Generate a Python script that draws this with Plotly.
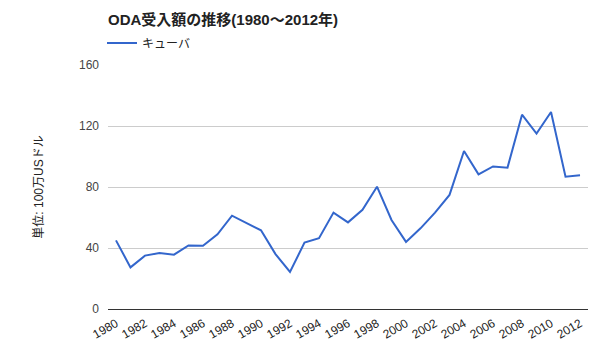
import plotly.graph_objects as go

years = list(range(1980, 2013))
cuba = [45, 27.3, 35, 36.7, 35.6, 41.7, 41.5, 49, 61.2, 56.6, 51.6, 36, 24.3, 43.5, 46.4,
        63.2, 56.8, 65, 80.2, 58.4, 44, 52.9, 63.2, 74.8, 103.6, 88.3, 93.5, 92.7, 127.4,
        115, 129.2, 86.8, 87.7]
yticks = [0, 40, 80, 120, 160]
xticks = list(range(1980, 2013, 2))

FONT = "Liberation Sans, Arial, Noto Sans CJK JP, sans-serif"

fig = go.Figure()
fig.add_trace(go.Scatter(x=years, y=cuba, mode="lines", name="キューバ",
                         line=dict(color="#3366cc", width=2)))

fig.update_layout(
    width=600, height=360,
    margin=dict(l=108, r=12, t=65, b=51),
    paper_bgcolor="white", plot_bgcolor="white",
    font=dict(family=FONT, size=12, color="#444"),
    title=dict(text="<b>ODA受入額の推移(1980～2012年)</b>", xref="container", yref="container",
               x=108/600, xanchor="left", y=1-20/360, yanchor="middle",
               font=dict(size=15, color="#222", family=FONT)),
    showlegend=True,
    legend=dict(orientation="h", x=-6/480, xanchor="left",
                y=1+22/244, yanchor="middle",
                font=dict(size=12, color="#222"), bgcolor="rgba(0,0,0,0)",
                itemwidth=30),
    xaxis=dict(range=[1979.45, 2012.55], tickvals=xticks, ticktext=[str(t) for t in xticks],
               tickangle=-30, showgrid=False, zeroline=False, showline=True,
               linecolor="#333", linewidth=1, ticks="", ticklabelstandoff=2,
               tickfont=dict(size=12, color="#222")),
    yaxis=dict(range=[0, 160], tickvals=yticks, showgrid=True, gridcolor="#cccccc",
               zeroline=False, showline=False, ticks="", ticklabelstandoff=8,
               tickfont=dict(size=12, color="#444"),
               title=dict(text="単位: 100万USドル", standoff=32, font=dict(size=12, color="#222"))),
)

fig.write_html("out.html", config={"displayModeBar": False},
               post_script="document.body.style.margin='0';")
